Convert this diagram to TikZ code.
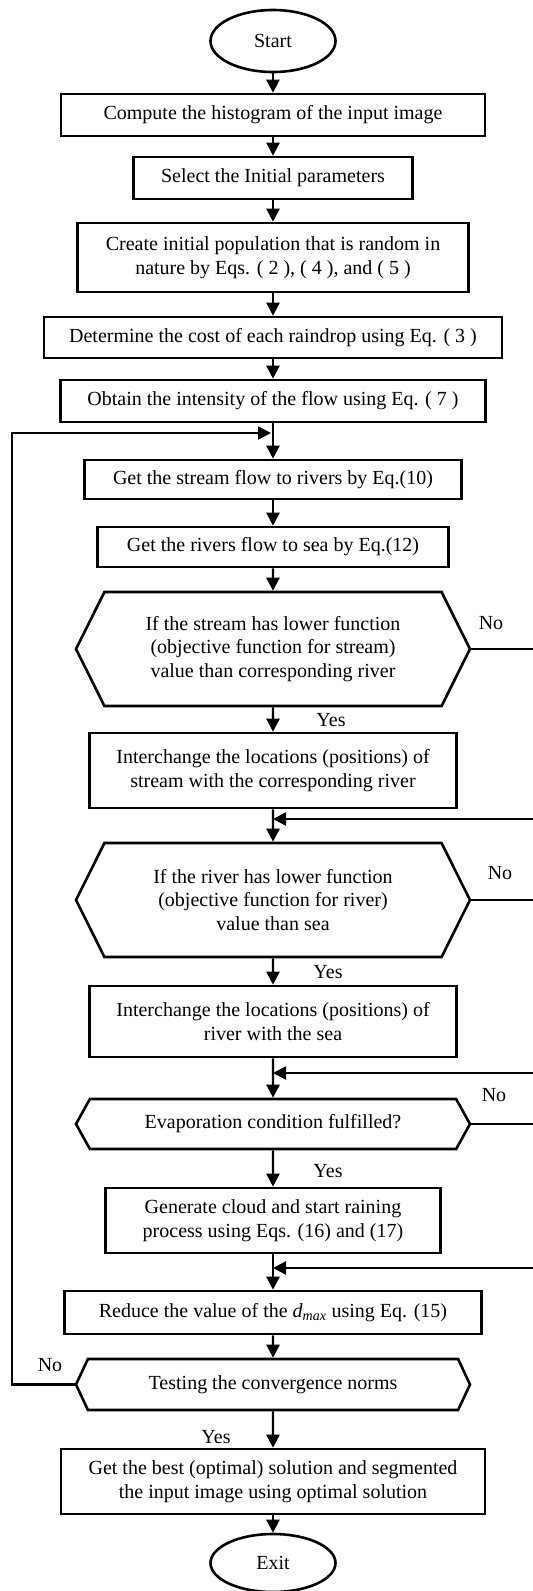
\documentclass[tikz,border=0pt]{standalone}
\usepackage{fontspec}
\setmainfont{Liberation Serif}
\usetikzlibrary{arrows.meta,shapes.geometric,shapes.symbols,calc}

\tikzset{
  base/.style={draw=black, line width=2.6pt, inner sep=0pt, align=center,
    font=\fontsize{20}{23.5}\selectfont, fill=white},
  procbox/.style={base, rectangle},
  terminal/.style={base, ellipse, minimum width=125pt},
  decision/.style={base, signal, signal to=east and west, signal pointer angle=#1,
    minimum width=394pt},
  decision/.default=127,
  flow/.style={line width=2.4pt, -{Triangle[length=13pt,width=13pt]}},
  lbl/.style={font=\fontsize{20}{23.5}\selectfont, inner sep=0pt}
}

\begin{document}
\begin{tikzpicture}[x=1pt, y=-1pt]
  \useasboundingbox (0,0) rectangle (533,1591);

  % main column of steps
  \node[terminal, minimum height=62pt] (start) at (273,41) {Start};
  \node[procbox, minimum width=424pt, minimum height=42pt] (b1) at (273,115)
    {Compute the histogram of the input image};
  \node[procbox, minimum width=279pt, minimum height=42pt] (b2) at (273,178)
    {Select the Initial parameters};
  \node[procbox, minimum width=391pt, minimum height=69pt] (b3) at (273,257.5)
    {Create initial population that is random in\\nature by Eqs. ( 2 ), ( 4 ), and ( 5 )};
  \node[procbox, minimum width=458pt, minimum height=41pt] (b4) at (273,337.5)
    {Determine the cost of each raindrop using Eq. ( 3 )};
  \node[procbox, minimum width=425pt, minimum height=42pt] (b5) at (273,401)
    {Obtain the intensity of the flow using Eq. ( 7 )};
  \node[procbox, minimum width=377pt, minimum height=39pt] (b6) at (273,479.5)
    {Get the stream flow to rivers by Eq.(10)};
  \node[procbox, minimum width=351pt, minimum height=40pt] (b7) at (273,547)
    {Get the rivers flow to sea by Eq.(12)};
  \node[decision=127, minimum height=114pt] (d1) at (273,649)
    {If the stream has lower function\\(objective function for stream)\\value than corresponding river};
  \node[procbox, minimum width=367pt, minimum height=75pt] (b8) at (273,770.5)
    {Interchange the locations (positions) of\\stream with the corresponding river};
  \node[decision=127, minimum height=114pt] (d2) at (273,900)
    {If the river has lower function\\(objective function for river)\\value than sea};
  \node[procbox, minimum width=367pt, minimum height=71pt] (b9) at (273,1021.5)
    {Interchange the locations (positions) of\\river with the sea};
  \node[decision=122, minimum height=50pt] (d3) at (273,1124)
    {Evaporation condition fulfilled?};
  \node[procbox, minimum width=335pt, minimum height=65pt] (b10) at (273,1220.5)
    {Generate cloud and start raining\\process using Eqs. (16) and (17)};
  \node[procbox, minimum width=417pt, minimum height=43pt] (b11) at (273,1312.5)
    {Reduce the value of the \textit{d}\textsubscript{\textit{max}} using Eq. (15)};
  \node[decision=130, minimum height=51pt] (d4) at (273,1384.5)
    {Testing the convergence norms};
  \node[procbox, minimum width=424pt, minimum height=65pt] (b12) at (273,1481.5)
    {Get the best (optimal) solution and segmented\\the input image using optimal solution};
  \node[terminal, minimum height=58pt] (exit) at (273,1563) {Exit};

  % junctions where loops re-enter the column
  \coordinate (j0) at (273,433);
  \coordinate (j1) at (273,819);
  \coordinate (j2) at (273,1073);
  \coordinate (j3) at (273,1268);
  \coordinate (rail) at (536,0);
  \coordinate (lrail) at (12,0);

  % straight flow
  \draw[flow] (start) -- (b1);
  \draw[flow] (b1) -- (b2);
  \draw[flow] (b2) -- (b3);
  \draw[flow] (b3) -- (b4);
  \draw[flow] (b4) -- (b5);
  \draw[flow] (b5) -- (b6);
  \draw[flow] (b6) -- (b7);
  \draw[flow] (b7) -- (d1);
  \draw[flow] (d1) -- (b8);
  \draw[flow] (b8) -- (d2);
  \draw[flow] (d2) -- (b9);
  \draw[flow] (b9) -- (d3);
  \draw[flow] (d3) -- (b10);
  \draw[flow] (b10) -- (b11);
  \draw[flow] (b11) -- (d4);
  \draw[flow] (d4) -- (b12);
  \draw[flow] (b12) -- (exit);

  % "No" branches returning from the right
  \draw[flow] (d1.east) -- (d1.east -| rail) |- (j1);
  \draw[flow] (d2.east) -- (d2.east -| rail) |- (j2);
  \draw[flow] (d3.east) -- (d3.east -| rail) |- (j3);

  % convergence loop on the left
  \draw[flow] (d4.west) -- (d4.west -| lrail) |- ($(j0)+(-2,0)$);

  % branch labels
  \node[lbl] (no1) at (491,623) {No};
  \node[lbl] (no2) at (500,873) {No};
  \node[lbl] (no3) at (494,1095) {No};
  \node[lbl] (no4) at (50,1365) {No};
  \node[lbl] (yes1) at (331,720) {Yes};
  \node[lbl] (yes2) at (328,972) {Yes};
  \node[lbl] (yes3) at (328,1171) {Yes};
  \node[lbl] (yes4) at (216,1437) {Yes};
\end{tikzpicture}
\end{document}
